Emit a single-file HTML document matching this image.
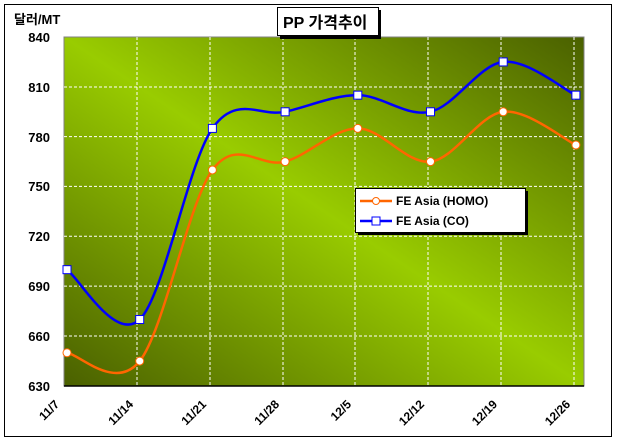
<!DOCTYPE html>
<html><head><meta charset="utf-8"><style>
body{margin:0;width:617px;height:443px;background:#fff;overflow:hidden}
svg text{font-family:"Liberation Sans","Noto Sans CJK KR",sans-serif;font-weight:bold}
</style></head><body>
<svg width="617" height="443" viewBox="0 0 617 443">
<defs>
<linearGradient id="bg" x1="0" y1="1" x2="1" y2="0">
<stop offset="0" stop-color="#4a6000"/><stop offset="0.5" stop-color="#99cc00"/><stop offset="1" stop-color="#4a6000"/>
</linearGradient>
</defs>
<rect x="4.5" y="4.5" width="607" height="432" fill="#fff" stroke="#000" stroke-width="1"/>
<rect x="64" y="37" width="520" height="349" fill="url(#bg)" stroke="#808080" stroke-width="1"/>
<g stroke="#fff" stroke-dasharray="3,2" stroke-width="1">
<line x1="64" x2="584" y1="87" y2="87"/><line x1="64" x2="584" y1="136.6" y2="136.6"/>
<line x1="64" x2="584" y1="186.4" y2="186.4"/><line x1="64" x2="584" y1="236.3" y2="236.3"/>
<line x1="64" x2="584" y1="286.1" y2="286.1"/><line x1="64" x2="584" y1="336" y2="336"/>
<line x1="137" x2="137" y1="37" y2="386"/><line x1="210" x2="210" y1="37" y2="386"/>
<line x1="283" x2="283" y1="37" y2="386"/><line x1="355" x2="355" y1="37" y2="386"/>
<line x1="428" x2="428" y1="37" y2="386"/><line x1="501" x2="501" y1="37" y2="386"/>
<line x1="574" x2="574" y1="37" y2="386"/>
</g>
<line x1="64" x2="584" y1="386" y2="386" stroke="#000" stroke-width="1.5"/>
<g id="curves"></g>
<g font-size="13" text-anchor="end">
<text x="50" y="42">840</text><text x="50" y="92">810</text><text x="50" y="142">780</text>
<text x="50" y="191">750</text><text x="50" y="241">720</text><text x="50" y="291">690</text>
<text x="50" y="341">660</text><text x="50" y="391">630</text>
</g>
<g font-size="12" text-anchor="end">
<text transform="translate(60,405) rotate(-45)">11/7</text>
<text transform="translate(134,405) rotate(-45)">11/14</text>
<text transform="translate(207,405) rotate(-45)">11/21</text>
<text transform="translate(280,405) rotate(-45)">11/28</text>
<text transform="translate(352,405) rotate(-45)">12/5</text>
<text transform="translate(425,405) rotate(-45)">12/12</text>
<text transform="translate(498,405) rotate(-45)">12/19</text>
<text transform="translate(571,405) rotate(-45)">12/26</text>
</g>
<text x="14" y="24" font-size="13">달러/MT</text>
<rect x="280" y="10" width="101" height="29" fill="#000"/>
<rect x="277.5" y="7.5" width="101" height="28" fill="#fff" stroke="#000"/>
<text x="283" y="28" font-size="16">PP 가격추이</text>
<rect x="358" y="191" width="170" height="44" fill="#000"/>
<rect x="355.5" y="188.5" width="170" height="44" fill="#fff" stroke="#000"/>
<line x1="360" x2="392" y1="201" y2="201" stroke="#ff6600" stroke-width="2.5"/>
<circle cx="376" cy="201" r="3.5" fill="#fff" stroke="#ff6600"/>
<line x1="360" x2="392" y1="221" y2="221" stroke="#0000ff" stroke-width="2.5"/>
<rect x="372" y="217" width="8" height="8" fill="#fff" stroke="#0000ff"/>
<text x="396" y="205" font-size="12">FE Asia (HOMO)</text>
<text x="396" y="225" font-size="12">FE Asia (CO)</text>
</svg>
<script>
function Y(v){return 386-(v-630)*349/210}
function X(i){return 67+i*72.7}
function path(vals){var p=vals.map(function(v,i){return[X(i),Y(v)]});var d="M"+p[0];
for(var i=0;i<p.length-1;i++){var p0=p[i-1]||p[i],p1=p[i],p2=p[i+1],p3=p[i+2]||p2;var t=1/6;
d+=" C"+(p1[0]+(p2[0]-p0[0])*t)+","+(p1[1]+(p2[1]-p0[1])*t)+" "+(p2[0]-(p3[0]-p1[0])*t)+","+(p2[1]-(p3[1]-p1[1])*t)+" "+p2;}return[d,p]}
var g=document.getElementById("curves"),ns="http://www.w3.org/2000/svg",s="";
var o=path([650,645,760,765,785,765,795,775]),b=path([700,670,785,795,805,795,825,805]);
s+='<path d="'+o[0]+'" fill="none" stroke="#ff6600" stroke-width="2.5"/>';
s+='<path d="'+b[0]+'" fill="none" stroke="#0000ff" stroke-width="2.5"/>';
o[1].forEach(function(q){s+='<circle cx="'+q[0]+'" cy="'+q[1]+'" r="4" fill="#fff" stroke="#ff6600"/>'});
b[1].forEach(function(q){s+='<rect x="'+(q[0]-4)+'" y="'+(q[1]-4)+'" width="8" height="8" fill="#fff" stroke="#0000ff"/>'});
g.innerHTML=s;
</script>
</body></html>
